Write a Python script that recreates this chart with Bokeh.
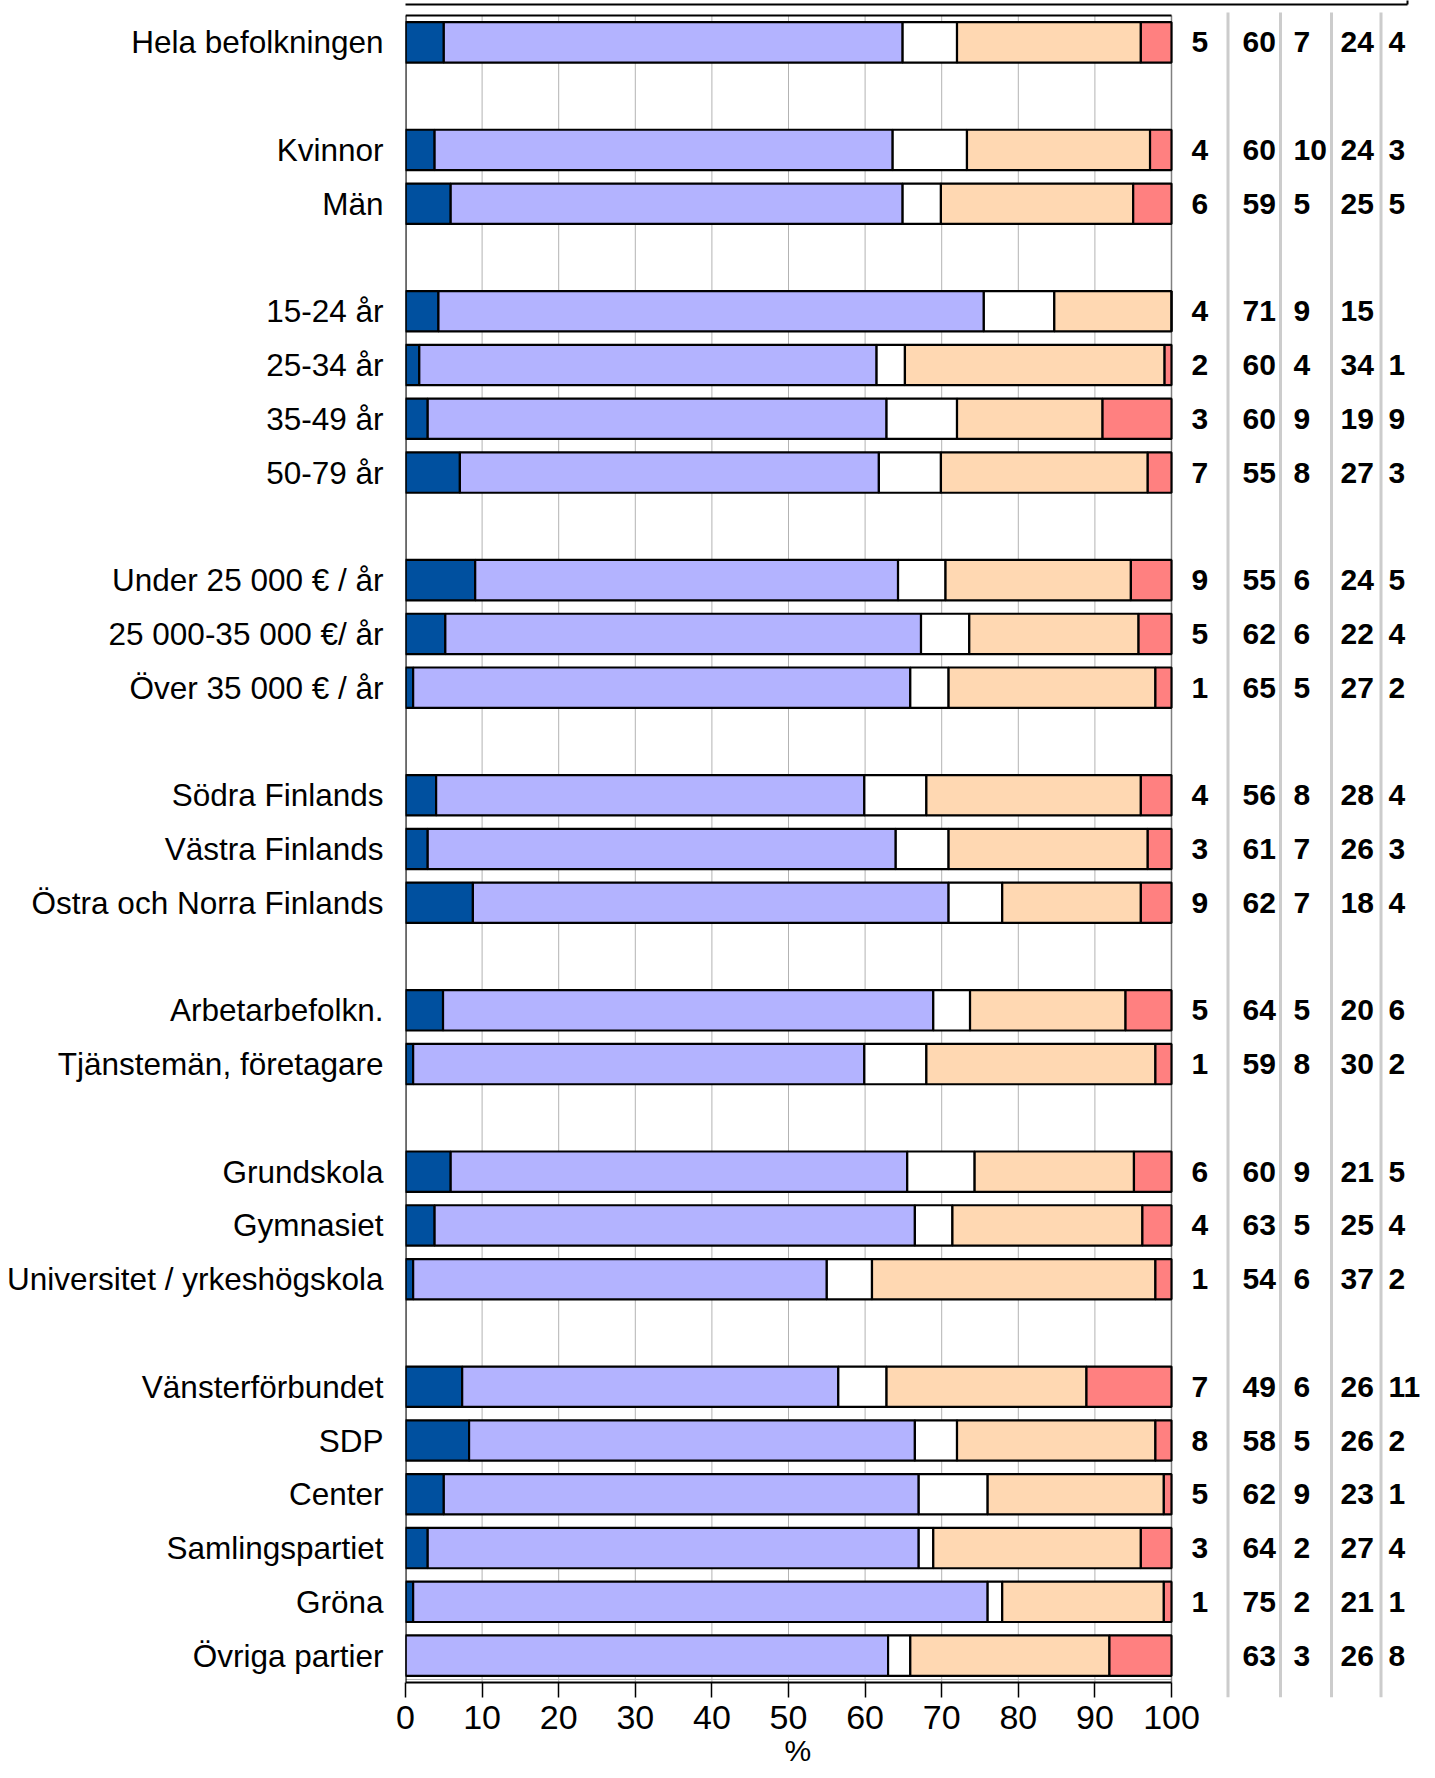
from bokeh.plotting import figure
from bokeh.models import Range1d, FixedTicker, ColumnDataSource, Title
from bokeh.core.properties import value
from bokeh.embed import file_html
from bokeh.resources import INLINE

# ---------------- data ----------------
categories = [
    "Hela befolkningen",
    "Kvinnor", "Män",
    "15-24 år", "25-34 år", "35-49 år", "50-79 år",
    "Under 25 000 € / år", "25 000-35 000 €/ år", "Över 35 000 € / år",
    "Södra Finlands", "Västra Finlands", "Östra och Norra Finlands",
    "Arbetarbefolkn.", "Tjänstemän, företagare",
    "Grundskola", "Gymnasiet", "Universitet / yrkeshögskola",
    "Vänsterförbundet", "SDP", "Center", "Samlingspartiet", "Gröna", "Övriga partier",
]
group_sizes = [1, 2, 4, 3, 3, 2, 3, 6]

# bar segment widths (%)
very_good = [5.0, 3.8, 5.9, 4.3, 1.8, 2.9, 7.1, 9.1, 5.2, 1.0, 4.0, 2.9, 8.8, 4.9, 1.0, 5.9, 3.8, 1.0, 7.4, 8.3, 5.0, 2.9, 1.0, 0.0]
fairly_good = [59.9, 59.8, 59.0, 71.2, 59.7, 59.9, 54.7, 55.2, 62.1, 64.9, 55.9, 61.1, 62.1, 64.0, 58.9, 59.6, 62.7, 54.0, 49.1, 58.2, 62.0, 64.1, 75.0, 63.0]
neither = [7.1, 9.7, 5.0, 9.2, 3.7, 9.2, 8.1, 6.2, 6.3, 5.0, 8.1, 6.9, 7.0, 4.8, 8.1, 8.8, 4.9, 5.9, 6.3, 5.5, 9.0, 1.9, 1.9, 2.9]
fairly_bad = [24.0, 23.9, 25.1, 15.3, 33.9, 19.0, 27.0, 24.2, 22.1, 27.0, 28.0, 26.0, 18.1, 20.3, 29.9, 20.8, 24.8, 37.0, 26.1, 25.9, 23.0, 27.1, 21.1, 26.0]
very_bad = [4.0, 2.8, 5.0, 0.0, 0.9, 9.0, 3.1, 5.3, 4.3, 2.1, 4.0, 3.1, 4.0, 6.0, 2.1, 4.9, 3.8, 2.1, 11.1, 2.1, 1.0, 4.0, 1.0, 8.1]

# printed numbers in the right-hand columns
lbl_very_good = [5, 4, 6, 4, 2, 3, 7, 9, 5, 1, 4, 3, 9, 5, 1, 6, 4, 1, 7, 8, 5, 3, 1, None]
lbl_fairly_good = [60, 60, 59, 71, 60, 60, 55, 55, 62, 65, 56, 61, 62, 64, 59, 60, 63, 54, 49, 58, 62, 64, 75, 63]
lbl_neither = [7, 10, 5, 9, 4, 9, 8, 6, 6, 5, 8, 7, 7, 5, 8, 9, 5, 6, 6, 5, 9, 2, 2, 3]
lbl_fairly_bad = [24, 24, 25, 15, 34, 19, 27, 24, 22, 27, 28, 26, 18, 20, 30, 21, 25, 37, 26, 26, 23, 27, 21, 26]
lbl_very_bad = [4, 3, 5, None, 1, 9, 3, 5, 4, 2, 4, 3, 4, 6, 2, 5, 4, 2, 11, 2, 1, 4, 1, 8]

x_ticks = [0, 10, 20, 30, 40, 50, 60, 70, 80, 90, 100]
x_title = "%"
colors = ["#00509f", "#b3b3ff", "#ffffff", "#ffd8b2", "#ff8080"]

# ---------------- layout (figure pixels) ----------------
FRAME_L = 405
FRAME_W = 1022
FRAME_T = 0
FRAME_B = 1697
PLOT_TOP, PLOT_BOT = 15, 1682
PX_PER_UNIT = 7.66
X_END = FRAME_W / PX_PER_UNIT

rows = []
slot = 0
for g in group_sizes:
    for _ in range(g):
        rows.append(slot)
        slot += 1
    slot += 1
n_slots = slot - 1
SLOT = (PLOT_BOT - PLOT_TOP) / float(n_slots)


def sx(px):
    return (px - FRAME_L) / PX_PER_UNIT


def sy(py):
    return -0.5 + (py - PLOT_TOP) / SLOT


y_top = sy(FRAME_T)
y_bot = sy(FRAME_B)

p = figure(frame_width=FRAME_W, frame_height=FRAME_B - FRAME_T,
           output_backend="svg", toolbar_location=None,
           x_range=Range1d(0, X_END), y_range=Range1d(y_bot, y_top),
           min_border_left=FRAME_L, min_border_right=0,
           min_border_top=FRAME_T, min_border_bottom=0)
p.outline_line_color = None
p.xgrid.visible = False
p.ygrid.visible = False
p.background_fill_color = "white"
p.border_fill_color = "white"

lo, hi = -0.5, n_slots - 0.5

# vertical grid lines (inner ticks)
inner = x_ticks[1:-1]
p.segment(x0=inner, y0=[lo] * len(inner), x1=inner, y1=[hi] * len(inner),
          line_color="#b3b3b3", line_width=1)
# thin gray rules just inside the top and bottom edges
p.segment(x0=[0, 0], y0=[sy(21), sy(1679)], x1=[100, 100], y1=[sy(21), sy(1679)],
          line_color="#b3b3b3", line_width=1)
# right frame edge (gray)
p.segment(x0=[100], y0=[lo], x1=[100], y1=[hi], line_color="#808080", line_width=1.5)

src = ColumnDataSource(dict(y=rows, vg=very_good, fg=fairly_good, nt=neither,
                            fb=fairly_bad, vb=very_bad))
p.hbar_stack(["vg", "fg", "nt", "fb", "vb"], y="y", height=0.75,
             fill_color=colors, line_color="black", line_width=2.2, source=src)

# black frame edges: top, left, bottom
p.segment(x0=[0, 0, 0], y0=[lo, lo, hi], x1=[100, 0, 100], y1=[lo, hi, hi],
          line_color="black", line_width=2.2)

# column separators
sep_x = [sx(v) for v in [1227.5, 1280, 1331, 1380.5]]
p.segment(x0=sep_x, y0=[sy(12)] * 4, x1=sep_x, y1=[y_bot] * 4,
          line_color="#cccccc", line_width=3)

# edge of the legend box peeking in at the very top
p.segment(x0=[sx(222), sx(1407)], y0=[sy(4), sy(-5)], x1=[sx(1407), sx(1407)],
          y1=[sy(4), sy(4)], line_color="black", line_width=2)

# printed numbers
col_px = [1191, 1242, 1293, 1340, 1388]
for cpx, lbls in zip(col_px, [lbl_very_good, lbl_fairly_good, lbl_neither,
                              lbl_fairly_bad, lbl_very_bad]):
    txt = ["" if v is None else str(v) for v in lbls]
    p.text(x=[sx(cpx)] * len(rows), y=rows, text=txt,
           text_font=value("Liberation Sans"), text_font_style="bold",
           text_font_size="30px", text_align="left", text_baseline="middle",
           text_color="black")

# x axis
xa = p.xaxis[0]
xa.ticker = FixedTicker(ticks=x_ticks)
xa.axis_line_color = None
xa.major_tick_in = 15
xa.major_tick_out = 0
xa.major_tick_line_width = 1.5
xa.major_tick_line_color = "black"
xa.minor_tick_line_color = None
xa.major_label_text_font = "Liberation Sans"
xa.major_label_text_font_size = "34px"
xa.major_label_text_color = "black"
xa.major_label_standoff = 8

# axis title, centred under the 0-100 scale
p.add_layout(Title(text=x_title, align="left", offset=379, standoff=0,
                   text_font="Liberation Sans", text_font_size="30px",
                   text_font_style="normal", text_color="black"), "below")

# y axis (category labels)
ya = p.yaxis[0]
ya.ticker = FixedTicker(ticks=rows)
ya.major_label_overrides = {r: c for r, c in zip(rows, categories)}
ya.axis_line_color = None
ya.major_tick_in = 0
ya.major_tick_out = 0
ya.minor_tick_line_color = None
ya.major_label_text_font = "Liberation Sans"
ya.major_label_text_font_size = "31.5px"
ya.major_label_text_color = "black"
ya.major_label_standoff = 22

open("out.html", "w").write(file_html(p, INLINE))
